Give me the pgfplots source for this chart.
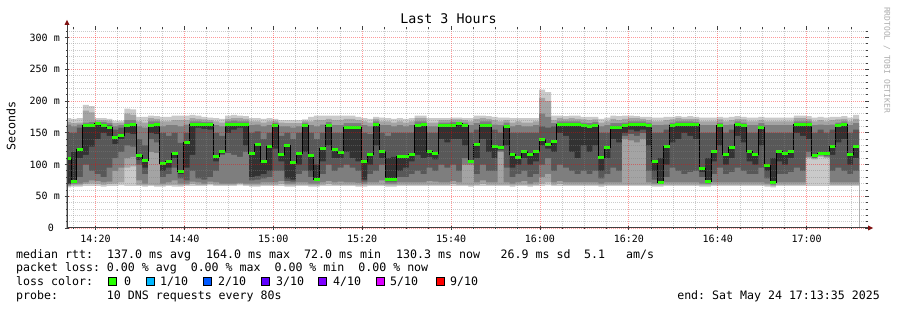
\documentclass[border=0pt]{standalone}
\usepackage{fontspec}
\setmainfont{DejaVu Sans Mono}
\usepackage{pgfplots}
\usepackage{pgfplotstable}
\pgfplotsset{compat=1.18}
\definecolor{cA}{HTML}{CACACA}
\definecolor{cB}{HTML}{A4A4A4}
\definecolor{cC}{HTML}{7E7E7E}
\definecolor{cD}{HTML}{585858}
\definecolor{cE}{HTML}{323232}
\definecolor{lossgreen}{HTML}{26FF00}
\definecolor{loss1}{HTML}{00B8FF}
\definecolor{loss2}{HTML}{0059FF}
\definecolor{loss3}{HTML}{5E00FF}
\definecolor{loss4}{HTML}{7E00FF}
\definecolor{loss5}{HTML}{DD00FF}
\definecolor{loss9}{HTML}{FF0000}
\definecolor{axiscol}{HTML}{404040}
\definecolor{arrowcol}{HTML}{7F1010}
\pgfplotstableread{
j p1 p2 p3 p4 p5 p6 p7 p8 p9 p10 med
0 64 66 67 69 70 109 150 163 167 173 109
1 65 67 69 71 73 120 150 160 165 172 73
2 65 67 70 80 110 124 158 163 166 173 124
3 66 69 72 100 115 161 163 166 185 194 161
4 66 70 75 90 128 161 163 167 182 192 161
5 66 69 74 85 140 164 165 167 170 173 164
6 65 68 72 80 150 162 164 167 170 173 162
7 66 69 73 95 145 159 162 165 169 172 159
8 66 70 90 110 132 143 155 160 165 169 143
9 67 72 95 120 140 146 158 162 166 169 146
10 66 95 110 130 150 161 164 170 180 188 161
11 66 97 112 128 148 163 165 170 178 187 163
12 66 68 75 100 107 114 140 160 168 175 114
13 65 67 70 85 95 107 130 158 166 175 107
14 66 68 120 140 150 161 163 168 173 177 161
15 65 67 118 135 148 163 165 168 172 176 163
16 65 67 70 80 90 101 150 160 168 175 101
17 66 68 72 85 95 104 145 162 168 175 104
18 65 68 75 95 110 118 150 162 170 177 118
19 65 67 70 78 85 89 134 160 170 177 89
20 66 68 70 75 95 134 150 163 170 177 134
21 66 69 73 90 115 163 165 168 173 178 163
22 66 68 72 78 158 163 165 168 172 177 163
23 66 68 70 76 156 163 165 167 171 175 163
24 67 69 73 80 155 163 164 167 170 174 163
25 66 68 72 90 105 113 150 162 168 173 113
26 66 68 70 115 117 120 145 160 166 172 120
27 66 68 70 118 150 163 165 168 172 177 163
28 66 68 70 115 155 163 165 169 173 178 163
29 67 69 71 112 158 163 165 168 173 177 163
30 66 68 70 120 130 163 165 168 172 176 163
31 65 67 70 75 80 118 150 162 168 173 118
32 65 67 70 76 82 131 152 163 168 173 131
33 66 68 72 78 85 105 140 160 166 172 105
34 66 68 72 80 90 128 150 162 168 173 128
35 66 68 72 90 125 162 164 166 169 172 162
36 66 69 74 90 105 116 145 160 166 170 116
37 65 67 70 74 78 130 150 160 165 170 130
38 65 67 70 73 76 103 140 158 165 170 103
39 66 68 72 85 100 118 150 160 165 170 118
40 66 68 72 90 120 161 163 166 169 171 161
41 65 67 70 80 90 114 150 162 168 175 114
42 65 67 70 74 77 100 140 160 170 177 77
43 66 68 72 85 105 125 150 163 170 177 125
44 66 69 74 100 130 161 163 167 172 177 161
45 66 68 72 90 110 124 150 162 170 177 124
46 66 68 73 95 110 119 150 162 170 177 119
47 66 68 72 100 120 159 161 165 172 177 159
48 66 68 72 95 110 159 161 165 172 177 159
49 65 67 71 90 105 159 161 165 170 175 159
50 65 67 70 73 76 105 150 162 168 173 105
51 66 68 72 85 100 115 148 160 166 172 115
52 66 68 72 90 130 163 165 168 172 175 163
53 66 68 75 100 110 121 150 162 168 174 121
54 65 67 70 73 76 110 145 162 168 173 76
55 65 67 70 73 76 112 150 160 166 172 76
56 66 68 72 80 90 112 150 162 168 173 112
57 66 68 72 80 95 112 150 160 166 172 112
58 66 68 72 85 105 115 150 162 168 173 115
59 66 68 72 90 115 161 163 168 173 177 161
60 66 68 72 85 110 163 165 168 173 177 163
61 66 68 74 95 112 121 150 160 166 173 121
62 66 68 73 90 108 117 150 160 166 173 117
63 66 68 72 100 140 161 163 166 170 173 161
64 66 68 72 95 135 161 163 166 170 173 161
65 66 69 74 100 140 162 164 167 171 174 162
66 66 68 72 90 140 164 165 167 171 174 164
67 66 68 100 110 130 161 163 166 170 173 161
68 65 67 100 102 104 105 150 162 168 173 105
69 66 68 72 85 110 131 155 165 172 177 131
70 66 69 75 100 140 162 164 168 173 177 162
71 66 68 72 90 120 162 164 168 172 176 162
72 66 68 72 90 110 128 155 163 170 175 128
73 66 68 120 122 124 126 150 162 168 174 126
74 66 68 72 95 130 160 162 166 170 174 160
75 65 67 70 80 95 116 150 160 166 173 116
76 66 68 72 85 100 111 150 162 168 173 111
77 66 68 74 90 110 121 150 160 166 173 121
78 65 67 70 80 100 116.5 150 160 166 173 116.5
79 66 68 72 85 105 120 150 162 168 173 120
80 66 70 80 100 130 139 160 180 205 218 139
81 67 72 85 110 125 131 158 175 200 214 131
82 66 68 72 90 120 137 160 165 170 177 137
83 66 69 74 100 150 163 165 168 173 177 163
84 66 68 72 95 145 163 165 168 172 176 163
85 66 68 72 90 120 163 165 168 173 177 163
86 66 68 72 85 110 163 165 168 172 177 163
87 66 68 72 90 130 161 163 166 171 175 161
88 66 68 72 85 120 159.5 162 165 170 175 159.5
89 66 68 72 90 130 162 164 167 171 175 162
90 65 67 70 78 90 111 150 160 166 172 111
91 66 68 72 85 110 127 150 162 168 174 127
92 66 68 72 95 140 159 161 165 172 177 159
93 66 68 72 90 135 159 161 165 170 176 159
94 66 68 140 145 150 161 163 166 172 177 161
95 66 68 138 148 155 163 165 168 173 177 163
96 66 68 135 145 152 163 165 168 173 176 163
97 66 68 140 150 155 163 165 168 172 175 163
98 66 68 72 90 130 161 163 166 170 175 161
99 65 67 70 76 90 105.5 150 162 168 174 105.5
100 65 67 69 71 72 110 150 162 168 174 72
101 66 68 72 80 100 127.6 155 163 170 175 127.6
102 66 68 72 95 135 161 163 166 171 175 161
103 66 68 72 90 140 163 165 168 173 176 163
104 66 68 72 85 150 163 165 168 172 175 163
105 66 68 72 88 145 163 165 168 172 176 163
106 66 68 72 90 140 163 165 167 172 175 163
107 65 67 70 80 88 94 150 162 168 174 94
108 65 67 69 72 73.5 110 150 162 168 174 73.5
109 66 68 72 85 105 120 150 162 168 174 120
110 66 68 72 95 130 161 163 166 171 175 161
111 66 68 72 85 100 116 150 162 168 174 116
112 66 68 72 88 110 126 155 163 170 175 126
113 66 68 72 95 145 163 165 168 172 176 163
114 66 68 72 90 135 161 163 166 171 175 161
115 66 68 72 85 105 120 150 162 168 174 120
116 66 68 72 85 100 116 150 162 168 174 116
117 66 68 72 95 130 159 161 165 170 175 159
118 65 67 70 78 90 98 150 162 168 174 98
119 64 66 68 70 71 110 150 162 168 174 71
120 66 68 72 85 105 120 150 162 168 174 120
121 66 68 72 85 100 117 150 162 168 174 117
122 66 68 72 88 110 121 150 162 168 174 121
123 66 68 72 95 150 163 165 168 173 177 163
124 66 68 72 90 145 163 165 168 173 177 163
125 66 110 112 120 140 163 165 168 172 176 163
126 66 108 110 111 112 114 150 162 168 174 114
127 66 112 114 115 116 117.5 155 163 170 175 117.5
128 66 110 112 114 116 117.5 150 162 168 174 117.5
129 66 68 72 90 115 129 155 163 170 175 129
130 66 68 72 95 135 161 163 166 171 175 161
131 66 68 72 90 140 163 165 168 172 176 163
132 66 68 72 85 100 115 150 162 168 174 115
133 66 68 72 90 110 129 155 165 172 178 129
134 66 68 72 90 110 129 155 165 172 178 129
}\smoke
\newcommand{\band}[2]{\addplot[const plot mark left, fill=#2, draw=none] table[x expr=13.15+\thisrow{j}*1.3333333, y=#1] {\smoke} \closedcycle;}
\begin{document}
\begin{tikzpicture}
\useasboundingbox (0,0) rectangle (897pt,310pt);
\begin{axis}[
  at={(67pt,82pt)}, anchor=south west,
  width=800pt, height=200pt, scale only axis,
  xmin=13.58333, xmax=193.58333, ymin=0, ymax=315,
  axis on top,
  axis line style={draw=none},
  xtick={20,40,...,180},
  xticklabels={14:20,14:40,15:00,15:20,15:40,16:00,16:20,16:40,17:00},
  minor xtick={15,25,30,35,45,50,55,65,70,75,85,90,95,105,110,115,125,130,135,145,150,155,165,170,175,185,190},
  ytick={0,50,...,300},
  yticklabels={0~~,50~m,100~m,150~m,200~m,250~m,300~m},
  minor ytick={10,20,30,40,60,70,80,90,110,120,130,140,160,170,180,190,210,220,230,240,260,270,280,290,310},
  grid=both,
  major grid style={draw=red, draw opacity=0.4, dash pattern=on 1pt off 1pt, line width=0.8pt},
  minor grid style={draw=gray, draw opacity=0.4, dash pattern=on 1pt off 1pt, line width=0.8pt},
  tick style={draw=axiscol, line width=0.8pt},
  major tick length=4pt, minor tick length=2pt,
  tick align=center,
  ticklabel style={font=\fontsize{10}{12}\selectfont, text=black},
  xticklabel style={anchor=north, inner sep=0pt, yshift=-5pt},
  yticklabel style={anchor=east, inner sep=0pt, xshift=-5pt},
]
\band{p10}{cA}
\band{p9}{cB}
\band{p8}{cC}
\band{p7}{cD}
\band{p6}{cE}
\band{p5}{cD}
\band{p4}{cC}
\band{p3}{cB}
\band{p2}{cA}
\band{p1}{white}
\addplot[const plot mark left, draw=black, line width=1pt] table[x expr=13.15+\thisrow{j}*1.3333333, y=med] {\smoke};
\addplot[jump mark left, draw=lossgreen, line width=3pt] table[x expr=13.15+\thisrow{j}*1.3333333, y=med] {\smoke};
\end{axis}
% axes with arrows
\draw[axiscol, line width=1pt] (67pt,82pt) -- (869pt,82pt);
\fill[arrowcol] (868pt,79.5pt) -- (873pt,82pt) -- (868pt,84.5pt) -- cycle;
\draw[axiscol, line width=1pt] (67pt,82pt) -- (67pt,286pt);
\fill[arrowcol] (64.5pt,285pt) -- (67pt,290pt) -- (69.5pt,285pt) -- cycle;
% title and labels
\node[anchor=base, inner sep=0pt, font=\fontsize{13.3}{15}\selectfont] at (448.5pt,286pt) {Last 3 Hours};
\node[rotate=90, inner sep=0pt, font=\fontsize{11.6}{13}\selectfont] at (11pt,184pt) {Seconds};
\node[rotate=-90, inner sep=0pt, text=black!32, font=\fontsize{8}{9}\selectfont] at (887pt,250pt) {RRDTOOL / TOBI OETIKER};
% legend
\begin{scope}[every node/.style={anchor=base west, inner sep=0pt, font=\fontsize{11.6}{13}\selectfont}]
\node at (16pt,51.5pt) {median~rtt:};
\node at (107pt,51.5pt) {137.0~ms~avg};
\node at (206pt,51.5pt) {164.0~ms~max};
\node at (304pt,51.5pt) {72.0~ms~min};
\node at (396pt,51.5pt) {130.3~ms~now};
\node at (500.5pt,51.5pt) {26.9~ms~sd};
\node at (584pt,51.5pt) {5.1};
\node at (626pt,51.5pt) {am/s};
\node at (16pt,38pt) {packet~loss:~0.00~\%~avg~~0.00~\%~max~~0.00~\%~min~~0.00~\%~now};
\node at (16pt,24pt) {loss~color:};
\node at (124pt,24pt) {0};
\node at (160pt,24pt) {1/10};
\node at (218pt,24pt) {2/10};
\node at (276pt,24pt) {3/10};
\node at (333pt,24pt) {4/10};
\node at (390pt,24pt) {5/10};
\node at (450pt,24pt) {9/10};
\node at (16pt,10pt) {probe:~~~~~~~10~DNS~requests~every~80s};
\node[anchor=base east] at (880pt,10pt) {end:~Sat~May~24~17:13:35~2025};
\end{scope}
\foreach \bx/\bc in {108.5/lossgreen,146.5/loss1,203.5/loss2,261/loss3,318.5/loss4,376/loss5,436.5/loss9}{
  \filldraw[fill=\bc, draw=black, line width=0.8pt] (\bx pt,24.5pt) rectangle ++(8pt,8pt);
}
\end{tikzpicture}
\end{document}
